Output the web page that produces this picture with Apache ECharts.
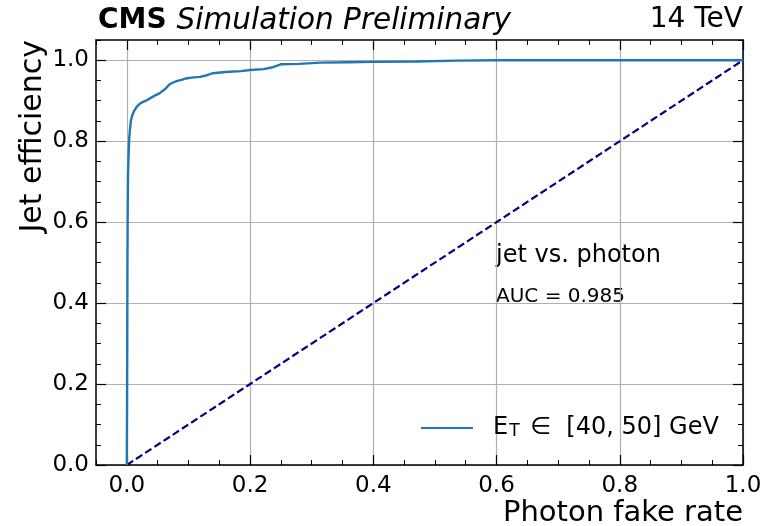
<!DOCTYPE html>
<html>
<head>
<meta charset="utf-8">
<script src="https://cdn.jsdelivr.net/npm/echarts@6/dist/echarts.min.js"></script>
<style>
html,body{margin:0;padding:0;background:#fff;}
#chart{width:766px;height:526px;}
</style>
</head>
<body>
<div id="chart"></div>
<script>
// ROC curve: photon fake rate (x) vs jet efficiency (y)
const fakeRate = [0, 0.0005, 0.001, 0.0015, 0.002, 0.003, 0.004, 0.0065, 0.009, 0.012, 0.016, 0.02, 0.025, 0.031, 0.039, 0.047, 0.053, 0.058, 0.063, 0.069, 0.075, 0.082, 0.09, 0.096, 0.105, 0.119, 0.13, 0.14, 0.16, 0.185, 0.2, 0.222, 0.235, 0.25, 0.28, 0.314, 0.36, 0.4, 0.47, 0.536, 0.6, 0.8, 1.0];
const jetEff   = [0, 0.2, 0.5, 0.64, 0.72, 0.77, 0.81, 0.85, 0.865, 0.875, 0.885, 0.891, 0.896, 0.90, 0.907, 0.914, 0.918, 0.924, 0.93, 0.94, 0.945, 0.949, 0.952, 0.955, 0.957, 0.959, 0.963, 0.968, 0.971, 0.973, 0.976, 0.978, 0.982, 0.99, 0.991, 0.994, 0.995, 0.996, 0.997, 0.999, 1.0, 1.0, 1.0];
// diagonal reference (random classifier)
const diagX = [0, 1];
const diagY = [0, 1];
// axis ticks
const xMajorTicks = [0.0, 0.2, 0.4, 0.6, 0.8, 1.0];
const yMajorTicks = [0.0, 0.2, 0.4, 0.6, 0.8, 1.0];
const legendLabel = 'E_T ∈ [40, 50] GeV';

const FONT = 'DejaVu Sans';
const chart = echarts.init(document.getElementById('chart'), null, {renderer: 'canvas'});

function majorX(pos, showLabel) {
  return {
    type: 'value', position: pos, min: -0.05, max: 1.0,
    axisLine: {show: true, onZero: false, lineStyle: {color: '#000', width: 1.5}},
    axisTick: {show: true, inside: true, length: 10, customValues: xMajorTicks, lineStyle: {color: '#000', width: 1.2}},
    axisLabel: {show: showLabel, customValues: xMajorTicks, formatter: v => v.toFixed(1), fontFamily: FONT, fontSize: 23, color: '#000', margin: 10},
    splitLine: {show: showLabel, lineStyle: {color: '#b0b0b0', width: 1.2}}
  };
}
function minorX(pos) {
  return {
    type: 'value', position: pos, min: -0.05, max: 1.0, interval: 0.05,
    axisLine: {show: false, onZero: false},
    axisTick: {show: true, inside: true, length: 5, lineStyle: {color: '#000', width: 1}},
    axisLabel: {show: false}, splitLine: {show: false}
  };
}
function majorY(pos, showLabel) {
  return {
    type: 'value', position: pos, min: 0, max: 1.05,
    axisLine: {show: true, onZero: false, lineStyle: {color: '#000', width: 1.5}},
    axisTick: {show: true, inside: true, length: 10, customValues: yMajorTicks, lineStyle: {color: '#000', width: 1.2}},
    axisLabel: {show: showLabel, customValues: yMajorTicks, formatter: v => v.toFixed(1), fontFamily: FONT, fontSize: 23, color: '#000', margin: 7},
    splitLine: {show: showLabel, lineStyle: {color: '#b0b0b0', width: 1.2}}
  };
}
function minorY(pos) {
  return {
    type: 'value', position: pos, min: 0, max: 1.05, interval: 0.05,
    axisLine: {show: false, onZero: false},
    axisTick: {show: true, inside: true, length: 5, lineStyle: {color: '#000', width: 1}},
    axisLabel: {show: false}, splitLine: {show: false}
  };
}

const option = {
  animation: false,
  backgroundColor: '#fff',
  textStyle: {fontFamily: FONT},
  grid: {left: 96, right: 23, top: 40, bottom: 61, containLabel: false},
  title: [
    {text: '{b|CMS}{g|}{i|Simulation Preliminary}', left: 98, top: 6, padding: 0,
     textStyle: {fontWeight: 'normal', rich: {
       b: {fontFamily: FONT, fontWeight: 'bold', fontSize: 28, color: '#000'},
       g: {width: 10},
       i: {fontFamily: FONT, fontStyle: 'italic', fontWeight: 'normal', fontSize: 29.5, color: '#000'}
     }}},
    {text: '14 TeV', right: 23, top: 6, padding: 0,
     textStyle: {fontFamily: FONT, fontWeight: 'normal', fontSize: 28, color: '#000'}}
  ],
  xAxis: [majorX('bottom', true), minorX('bottom'), majorX('top', false), minorX('top')],
  yAxis: [majorY('left', true), minorY('left'), majorY('right', false), minorY('right')],
  legend: {
    data: [legendLabel], left: 421, top: 416, itemWidth: 52, itemHeight: 14, padding: 0,
    icon: 'path://M0,6 L52,6 L52,8 L0,8 Z',
    formatter: () => '{p|}{e|E}{s|T}{e| ∈  [40, 50] GeV}',
    textStyle: {rich: {
      p: {width: 15},
      e: {fontFamily: FONT, fontSize: 24, color: '#000', lineHeight: 30, verticalAlign: 'middle'},
      s: {fontFamily: FONT, fontSize: 17, color: '#000', lineHeight: 16, verticalAlign: 'bottom', padding: [0, 3, 3, 1]}
    }}
  },
  graphic: [
    {type: 'text', x: 33, y: 40, rotation: Math.PI / 2,
     style: {text: 'Jet efficiency', fontFamily: FONT, fontSize: 30, fill: '#000', textAlign: 'right', textVerticalAlign: 'middle'}},
    {type: 'text', x: 743, y: 528,
     style: {text: 'Photon fake rate', fontFamily: FONT, fontSize: 29, fill: '#000', textAlign: 'right', textVerticalAlign: 'bottom'}},
    {type: 'text', x: 496, y: 256,
     style: {text: 'jet vs. photon', fontFamily: FONT, fontSize: 24, fill: '#000', textAlign: 'left', textVerticalAlign: 'middle'}},
    {type: 'text', x: 496, y: 297,
     style: {text: 'AUC = 0.985', fontFamily: FONT, fontSize: 20, fill: '#000', textAlign: 'left', textVerticalAlign: 'middle'}}
  ],
  series: [
    {
      name: 'diag', type: 'line', xAxisIndex: 0, yAxisIndex: 0,
      data: diagX.map((x, i) => [x, diagY[i]]),
      symbol: 'none', silent: true,
      lineStyle: {color: '#000080', width: 2.2, type: [7.5, 3.5]}, z: 3
    },
    {
      name: legendLabel, type: 'line', xAxisIndex: 0, yAxisIndex: 0,
      data: fakeRate.map((x, i) => [x, jetEff[i]]),
      symbol: 'none', color: '#1f77b4',
      lineStyle: {color: '#1f77b4', width: 2.4}, z: 4
    }
  ]
};
chart.setOption(option);
</script>
</body>
</html>
